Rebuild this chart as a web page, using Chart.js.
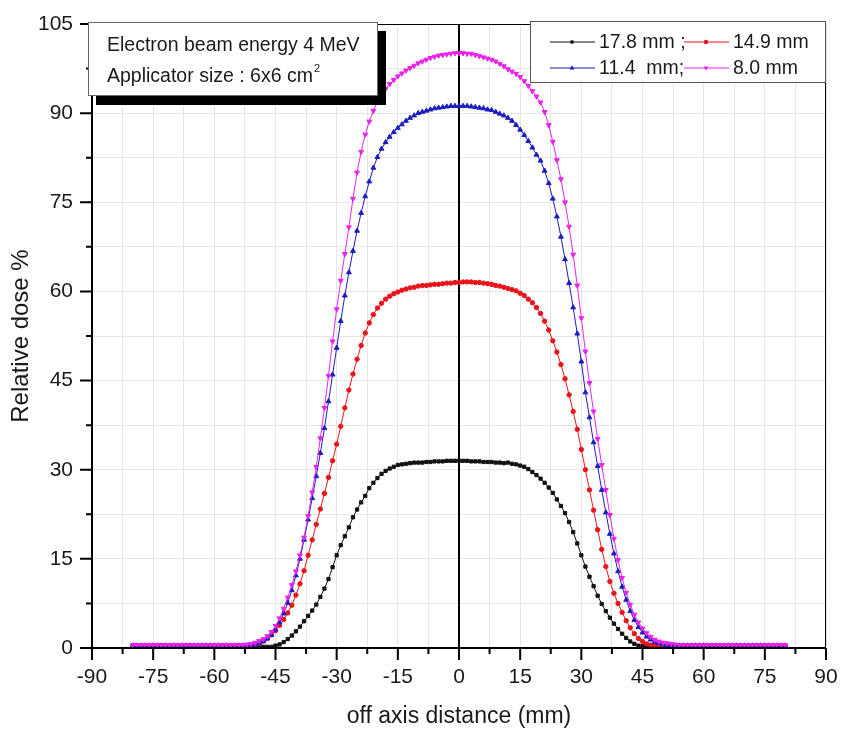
<!DOCTYPE html>
<html>
<head>
<meta charset="utf-8">
<script src="https://cdn.jsdelivr.net/npm/chart.js@4.4.1/dist/chart.umd.min.js"></script>
<style>
  body { margin: 0; background: #fff; }
  #wrap { width: 842px; height: 734px; }
</style>
</head>
<body>
<div id="wrap"><canvas id="doseChart" width="842" height="734"></canvas></div>
<script>
// off axis distance (mm), one sample per mm
const offAxis = [
  -80, -79, -78, -77, -76, -75, -74, -73, -72, -71,
  -70, -69, -68, -67, -66, -65, -64, -63, -62, -61,
  -60, -59, -58, -57, -56, -55, -54, -53, -52, -51,
  -50, -49, -48, -47, -46, -45, -44, -43, -42, -41,
  -40, -39, -38, -37, -36, -35, -34, -33, -32, -31,
  -30, -29, -28, -27, -26, -25, -24, -23, -22, -21,
  -20, -19, -18, -17, -16, -15, -14, -13, -12, -11,
  -10, -9, -8, -7, -6, -5, -4, -3, -2, -1,
  0, 1, 2, 3, 4, 5, 6, 7, 8, 9,
  10, 11, 12, 13, 14, 15, 16, 17, 18, 19,
  20, 21, 22, 23, 24, 25, 26, 27, 28, 29,
  30, 31, 32, 33, 34, 35, 36, 37, 38, 39,
  40, 41, 42, 43, 44, 45, 46, 47, 48, 49,
  50, 51, 52, 53, 54, 55, 56, 57, 58, 59,
  60, 61, 62, 63, 64, 65, 66, 67, 68, 69,
  70, 71, 72, 73, 74, 75, 76, 77, 78, 79,
  80
];

// relative dose % at 17.8 mm depth
const dose178 = [
  0.2, 0.2, 0.2, 0.2, 0.2, 0.2, 0.2, 0.2, 0.2, 0.2,
  0.2, 0.2, 0.2, 0.2, 0.2, 0.2, 0.2, 0.2, 0.2, 0.2,
  0.2, 0.2, 0.2, 0.2, 0.2, 0.2, 0.2, 0.2, 0.2, 0.2,
  0.1, 0.1, 0.2, 0.2, 0.2, 0.4, 0.6, 1.0, 1.5, 2.1,
  2.8, 3.6, 4.5, 5.4, 6.3, 7.3, 8.6, 10.0, 11.6, 13.6,
  15.6, 17.3, 18.8, 20.3, 22.0, 23.3, 24.5, 25.6, 26.9, 27.8,
  28.6, 29.3, 29.8, 30.2, 30.5, 30.8, 30.9, 31.0, 31.1, 31.2,
  31.2, 31.2, 31.3, 31.3, 31.4, 31.4, 31.4, 31.5, 31.5, 31.5,
  31.5, 31.5, 31.5, 31.4, 31.4, 31.4, 31.3, 31.3, 31.3, 31.2,
  31.2, 31.1, 31.2, 31.0, 30.9, 30.7, 30.5, 30.1, 29.6, 29.1,
  28.5, 27.8, 27.0, 26.1, 25.0, 23.9, 22.7, 21.2, 19.5, 17.6,
  15.6, 13.7, 12.0, 10.4, 8.8, 7.4, 6.2, 5.1, 4.1, 3.2,
  2.4, 1.7, 1.1, 0.7, 0.4, 0.3, 0.2, 0.2, 0.2, 0.2,
  0.2, 0.2, 0.2, 0.2, 0.2, 0.2, 0.2, 0.2, 0.2, 0.2,
  0.2, 0.2, 0.2, 0.2, 0.2, 0.2, 0.2, 0.2, 0.2, 0.2,
  0.2, 0.2, 0.2, 0.2, 0.2, 0.2, 0.2, 0.2, 0.2, 0.2,
  0.2
];

// relative dose % at 14.9 mm depth
const dose149 = [
  0.3, 0.3, 0.3, 0.3, 0.3, 0.3, 0.3, 0.3, 0.3, 0.3,
  0.3, 0.3, 0.3, 0.3, 0.3, 0.3, 0.3, 0.3, 0.3, 0.3,
  0.3, 0.3, 0.3, 0.3, 0.3, 0.3, 0.3, 0.3, 0.3, 0.4,
  0.6, 0.8, 1.2, 1.6, 2.2, 2.9, 3.8, 4.8, 5.9, 7.2,
  8.9, 10.8, 13.0, 15.6, 18.2, 20.8, 23.4, 26.0, 28.7, 31.5,
  34.3, 37.3, 40.4, 43.4, 46.1, 48.6, 50.9, 53.0, 54.7, 56.1,
  57.2, 58.0, 58.7, 59.2, 59.6, 59.9, 60.2, 60.4, 60.6, 60.7,
  60.9, 61.0, 61.0, 61.1, 61.2, 61.2, 61.3, 61.4, 61.4, 61.5,
  61.5, 61.6, 61.6, 61.6, 61.5, 61.5, 61.4, 61.3, 61.2, 61.0,
  60.9, 60.7, 60.5, 60.3, 60.1, 59.7, 59.3, 58.7, 58.1, 57.3,
  56.3, 55.0, 53.5, 51.7, 49.8, 47.7, 45.3, 42.6, 39.8, 36.8,
  33.4, 30.0, 26.6, 23.2, 19.9, 16.6, 13.7, 11.2, 9.2, 7.5,
  6.0, 4.6, 3.4, 2.4, 1.6, 1.1, 0.7, 0.5, 0.4, 0.3,
  0.3, 0.3, 0.3, 0.3, 0.3, 0.3, 0.3, 0.3, 0.3, 0.3,
  0.3, 0.3, 0.3, 0.3, 0.3, 0.3, 0.3, 0.3, 0.3, 0.3,
  0.3, 0.3, 0.3, 0.3, 0.3, 0.3, 0.3, 0.3, 0.3, 0.3,
  0.3
];

// relative dose % at 11.4 mm depth
const dose114 = [
  0.4, 0.4, 0.4, 0.4, 0.4, 0.4, 0.4, 0.4, 0.4, 0.4,
  0.4, 0.4, 0.4, 0.4, 0.4, 0.4, 0.4, 0.4, 0.4, 0.4,
  0.4, 0.4, 0.4, 0.4, 0.4, 0.4, 0.4, 0.4, 0.4, 0.4,
  0.6, 0.8, 1.1, 1.6, 2.2, 3.1, 4.3, 5.8, 7.6, 9.7,
  12.2, 15.0, 18.2, 21.6, 25.2, 28.9, 32.8, 37.0, 41.5, 46.0,
  50.5, 55.0, 59.3, 63.2, 66.8, 70.2, 73.2, 76.0, 78.5, 80.8,
  82.6, 84.0, 85.1, 86.0, 86.8, 87.5, 88.1, 88.7, 89.2, 89.6,
  90.0, 90.2, 90.4, 90.6, 90.8, 90.9, 91.0, 91.1, 91.2, 91.2,
  91.2, 91.2, 91.2, 91.1, 91.0, 90.9, 90.8, 90.6, 90.5, 90.2,
  89.9, 89.6, 89.2, 88.7, 88.0, 87.2, 86.3, 85.3, 84.2, 83.0,
  82.0, 80.3, 78.2, 75.6, 72.6, 69.2, 65.4, 61.4, 57.3, 52.9,
  48.2, 43.0, 38.8, 34.6, 30.6, 26.6, 22.8, 19.2, 15.9, 12.9,
  10.3, 8.1, 6.2, 4.7, 3.5, 2.6, 1.9, 1.4, 1.0, 0.8,
  0.6, 0.5, 0.4, 0.4, 0.4, 0.4, 0.4, 0.4, 0.4, 0.4,
  0.4, 0.4, 0.4, 0.4, 0.4, 0.4, 0.4, 0.4, 0.4, 0.4,
  0.4, 0.4, 0.4, 0.4, 0.4, 0.4, 0.4, 0.4, 0.4, 0.4,
  0.4
];

// relative dose % at 8.0 mm depth
const dose80 = [
  0.5, 0.5, 0.5, 0.5, 0.5, 0.5, 0.5, 0.5, 0.5, 0.5,
  0.5, 0.5, 0.5, 0.5, 0.5, 0.5, 0.5, 0.5, 0.5, 0.5,
  0.5, 0.5, 0.5, 0.5, 0.5, 0.5, 0.5, 0.5, 0.6, 0.7,
  0.9, 1.2, 1.5, 2.0, 2.7, 3.7, 5.0, 6.6, 8.5, 10.6,
  12.9, 15.6, 18.6, 22.2, 26.2, 30.5, 35.3, 40.4, 45.8, 51.6,
  57.0, 61.8, 66.3, 70.8, 75.6, 80.0, 83.5, 86.4, 88.6, 90.4,
  91.9, 93.1, 94.1, 94.9, 95.6, 96.2, 96.7, 97.2, 97.6, 98.0,
  98.4, 98.7, 99.0, 99.3, 99.5, 99.7, 99.8, 99.9, 100.0, 100.1,
  100.1, 100.1, 100.0, 100.0, 99.8, 99.6, 99.4, 99.2, 99.0, 98.7,
  98.3, 97.9, 97.4, 97.0, 96.6, 96.1, 95.4, 94.6, 93.7, 92.8,
  91.8, 90.2, 88.0, 85.2, 82.1, 78.9, 75.0, 70.9, 66.2, 61.0,
  55.5, 49.9, 44.6, 39.8, 35.2, 30.8, 26.6, 22.4, 18.4, 14.8,
  11.8, 9.3, 7.3, 5.6, 4.3, 3.3, 2.5, 1.9, 1.4, 1.1,
  0.9, 0.8, 0.7, 0.6, 0.5, 0.5, 0.5, 0.5, 0.5, 0.5,
  0.5, 0.5, 0.5, 0.5, 0.5, 0.5, 0.5, 0.5, 0.5, 0.5,
  0.5, 0.5, 0.5, 0.5, 0.5, 0.5, 0.5, 0.5, 0.5, 0.5,
  0.5
];

const seriesLabels = ["17.8 mm ;", "14.9 mm", "11.4  mm;", "8.0 mm"];
const infoLines = ["Electron beam energy 4 MeV", "Applicator size : 6x6 cm"];

const FONT = 'Arial, "Liberation Sans", sans-serif';
Chart.defaults.font.family = FONT;
Chart.defaults.color = "#1a1a1a";

function points(ys) {
  return offAxis.map((x, i) => ({ x: x, y: ys[i] }));
}

function isMajor(v) {
  return Math.abs(v % 15) < 1e-6;
}

// axis lines, tick marks, zero line
const axisFrame = {
  id: "axisFrame",
  beforeDatasetsDraw(chart) {
    const { ctx, chartArea: a, scales: { x } } = chart;
    const x0 = x.getPixelForValue(0);
    ctx.save();
    ctx.strokeStyle = "#000";
    ctx.lineWidth = 2;
    ctx.beginPath();
    ctx.moveTo(x0, a.top);
    ctx.lineTo(x0, a.bottom);
    ctx.stroke();
    ctx.restore();
  },
  afterDraw(chart) {
    const { ctx, chartArea: a, scales: { x, y } } = chart;
    ctx.save();
    ctx.strokeStyle = "#000";
    ctx.lineWidth = 1;
    ctx.beginPath();
    ctx.moveTo(a.left, a.top + 0.5);
    ctx.lineTo(a.right, a.top + 0.5);
    ctx.moveTo(a.right - 0.5, a.top);
    ctx.lineTo(a.right - 0.5, a.bottom);
    ctx.stroke();

    ctx.lineWidth = 2;
    ctx.beginPath();
    ctx.moveTo(a.left, a.top);
    ctx.lineTo(a.left, a.bottom);
    ctx.lineTo(a.right, a.bottom);
    ctx.stroke();

    ctx.beginPath();
    x.ticks.forEach(t => {
      const px = x.getPixelForValue(t.value);
      const len = isMajor(t.value) ? 12 : 6;
      ctx.moveTo(px, a.bottom);
      ctx.lineTo(px, a.bottom + len);
    });
    y.ticks.forEach(t => {
      const py = y.getPixelForValue(t.value);
      const len = isMajor(t.value) ? 12 : 6;
      ctx.moveTo(a.left, py);
      ctx.lineTo(a.left - len, py);
    });
    ctx.stroke();
    ctx.restore();
  }
};

// text box with shadow and the two-column legend
const boxes = {
  id: "boxes",
  afterDraw(chart) {
    const ctx = chart.ctx;
    ctx.save();
    // info box
    ctx.fillStyle = "#000";
    ctx.fillRect(96, 31, 290, 74);
    ctx.fillStyle = "#fff";
    ctx.fillRect(88, 22, 290, 74);
    ctx.strokeStyle = "#666";
    ctx.lineWidth = 1;
    ctx.strokeRect(88.5, 22.5, 289, 73);
    ctx.fillStyle = "#1a1a1a";
    ctx.font = "19.5px " + FONT;
    ctx.textBaseline = "alphabetic";
    ctx.fillText(infoLines[0], 107, 51);
    ctx.fillText(infoLines[1], 107, 82);
    const w = ctx.measureText(infoLines[1]).width;
    ctx.font = "11px " + FONT;
    ctx.fillText("2", 107 + w + 1, 72);

    // legend
    ctx.fillStyle = "#fff";
    ctx.fillRect(530, 21, 295, 61);
    ctx.strokeStyle = "#555";
    ctx.strokeRect(530.5, 21.5, 295, 61);
    ctx.font = "19.5px " + FONT;
    ctx.textBaseline = "middle";
    const cols = [550, 684];
    const rows = [42, 68];
    chart.data.datasets.forEach((ds, i) => {
      const lx = cols[i % 2];
      const ly = rows[Math.floor(i / 2)];
      ctx.strokeStyle = ds.borderColor;
      ctx.lineWidth = 1;
      ctx.beginPath();
      ctx.moveTo(lx, ly);
      ctx.lineTo(lx + 45, ly);
      ctx.stroke();
      ctx.fillStyle = ds.pointBackgroundColor;
      Chart.helpers.drawPoint(ctx, {
        pointStyle: ds.pointStyle,
        radius: ds.pointRadius,
        rotation: ds.pointRotation || 0,
        borderWidth: 0
      }, lx + 22, ly);
      ctx.fillStyle = "#1a1a1a";
      ctx.fillText(ds.label, lx + 49, ly + 1);
    });
    ctx.restore();
  }
};

new Chart(document.getElementById("doseChart"), {
  type: "line",
  data: {
    datasets: [
      {
        label: seriesLabels[0],
        data: points(dose178),
        borderColor: "#111111",
        pointBackgroundColor: "#111111",
        pointBorderColor: "#111111",
        pointStyle: "rect",
        pointRadius: 2.3,
        borderWidth: 1,
        order: 4
      },
      {
        label: seriesLabels[1],
        data: points(dose149),
        borderColor: "#e8141a",
        pointBackgroundColor: "#e8141a",
        pointBorderColor: "#e8141a",
        pointStyle: "circle",
        pointRadius: 2.2,
        borderWidth: 1,
        order: 3
      },
      {
        label: seriesLabels[2],
        data: points(dose114),
        borderColor: "#1c1cc0",
        pointBackgroundColor: "#1c1cc0",
        pointBorderColor: "#1c1cc0",
        pointStyle: "triangle",
        pointRadius: 2.8,
        borderWidth: 1,
        order: 2
      },
      {
        label: seriesLabels[3],
        data: points(dose80),
        borderColor: "#ea22ea",
        pointBackgroundColor: "#ea22ea",
        pointBorderColor: "#ea22ea",
        pointStyle: "triangle",
        pointRotation: 180,
        pointRadius: 2.8,
        borderWidth: 1,
        order: 1
      }
    ]
  },
  options: {
    responsive: false,
    animation: false,
    devicePixelRatio: 1,
    layout: { padding: { top: 24, right: 16, left: 0, bottom: 0 } },
    elements: { point: { borderWidth: 0 }, line: { tension: 0 } },
    plugins: {
      legend: { display: false },
      tooltip: { enabled: false }
    },
    scales: {
      x: {
        type: "linear",
        min: -90,
        max: 90,
        border: { display: false },
        grid: { color: "#e6e6e6", lineWidth: 1, drawTicks: false },
        ticks: {
          stepSize: 7.5,
          autoSkip: false,
          maxRotation: 0,
          padding: 17,
          font: { size: 21 },
          callback: v => (isMajor(v) ? String(v) : "")
        },
        title: {
          display: true,
          text: "off axis distance (mm)",
          font: { size: 23 },
          padding: { top: 0, bottom: 4 }
        },
        afterFit(scale) {
          scale.height = 86;
          scale.paddingLeft = 0;
          scale.paddingRight = 0;
        }
      },
      y: {
        min: 0,
        max: 105,
        border: { display: false },
        grid: { color: "#e6e6e6", lineWidth: 1, drawTicks: false },
        ticks: {
          stepSize: 7.5,
          autoSkip: false,
          padding: 19,
          font: { size: 21 },
          callback: v => (isMajor(v) ? String(v) : "")
        },
        title: {
          display: true,
          text: "Relative dose %",
          font: { size: 24 },
          padding: { top: 7, bottom: 0 }
        },
        afterFit(scale) {
          scale.width = 92;
          scale.paddingTop = 0;
          scale.paddingBottom = 0;
        }
      }
    }
  },
  plugins: [axisFrame, boxes]
});
</script>
</body>
</html>
